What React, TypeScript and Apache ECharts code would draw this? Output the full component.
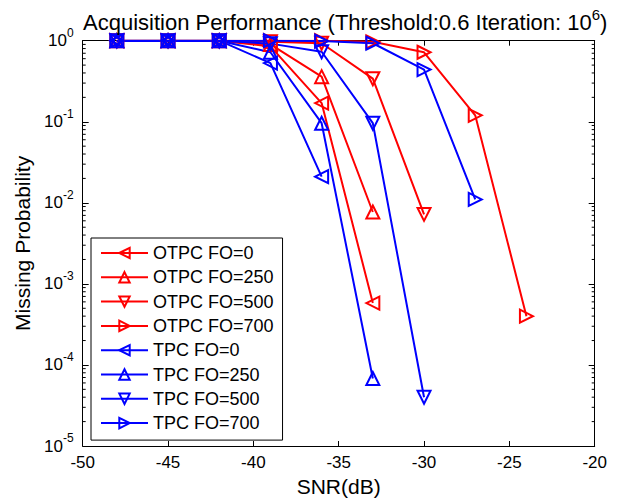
import React, { useEffect, useRef } from "react";
import * as echarts from "echarts";

const snr = [-48, -45, -42, -39, -36, -33, -30, -27, -24];
const otpcFO0 = [1, 1, 1, 0.85, 0.17, 0.00058];
const otpcFO250 = [1, 1, 1, 0.9, 0.36, 0.0077];
const otpcFO500 = [1, 1, 1, 0.97, 0.93, 0.34, 0.0072];
const otpcFO700 = [1, 1, 1, 1, 1, 0.97, 0.72, 0.12, 0.0004];
const tpcFO0 = [1, 1, 1, 0.53, 0.021];
const tpcFO250 = [1, 1, 1, 0.72, 0.096, 0.000068];
const tpcFO500 = [1, 1, 1, 0.92, 0.73, 0.096, 0.00004];
const tpcFO700 = [1, 1, 1, 1, 0.99, 0.93, 0.44, 0.011];

const seriesNames = [
  "OTPC FO=0",
  "OTPC FO=250",
  "OTPC FO=500",
  "OTPC FO=700",
  "TPC FO=0",
  "TPC FO=250",
  "TPC FO=500",
  "TPC FO=700",
];
const seriesValues = [otpcFO0, otpcFO250, otpcFO500, otpcFO700, tpcFO0, tpcFO250, tpcFO500, tpcFO700];
const xTicks = [-50, -45, -40, -35, -30, -25, -20];
const minorTickValues: number[] = [];
for (let e = -5; e < 0; e++) {
  for (let m = 2; m <= 9; m++) minorTickValues.push(m * Math.pow(10, e));
}

const RED = "#ff0000";
const BLUE = "#0000ff";
const FONT = "'Liberation Sans', Arial, Helvetica, sans-serif";

const SYM = {
  left: "path://M0,5 L10,0 L10,10 Z",
  up: "path://M5,0 L10,10 L0,10 Z",
  down: "path://M0,0 L10,0 L5,10 Z",
  right: "path://M0,0 L10,5 L0,10 Z",
};
const symbols = [SYM.left, SYM.up, SYM.down, SYM.right, SYM.left, SYM.up, SYM.down, SYM.right];
const colors = [RED, RED, RED, RED, BLUE, BLUE, BLUE, BLUE];

export default function App() {
  const ref = useRef<HTMLDivElement>(null);
  useEffect(() => {
    if (!ref.current) return;
    const chart = echarts.init(ref.current, undefined, { renderer: "svg" });
    const lineSeries = seriesNames.map((name, i) => ({
      name,
      type: "line",
      xAxisIndex: 0,
      yAxisIndex: 0,
      data: seriesValues[i].map((v, j) => [snr[j], v]),
      symbol: symbols[i],
      symbolSize: 13,
      showAllSymbol: true,
      lineStyle: { color: colors[i], width: 2 },
      itemStyle: { color: "rgba(255,255,255,0)", borderColor: colors[i], borderWidth: 2 },
      emphasis: { disabled: true },
      z: 3,
    }));
    const minorSeries = {
      type: "custom",
      name: "minor",
      xAxisIndex: 0,
      yAxisIndex: 0,
      silent: true,
      data: minorTickValues.map((v) => [-50, v]),
      renderItem: (params: any, api: any) => {
        const p = api.coord([-50, api.value(1)]);
        const cs = params.coordSys;
        const y = p[1];
        return {
          type: "group",
          children: [
            { type: "line", shape: { x1: cs.x, y1: y, x2: cs.x + 3, y2: y }, style: { stroke: "#000", lineWidth: 1 } },
            {
              type: "line",
              shape: { x1: cs.x + cs.width - 3, y1: y, x2: cs.x + cs.width, y2: y },
              style: { stroke: "#000", lineWidth: 1 },
            },
          ],
        };
      },
      z: 1,
    };
    const axisBase = {
      axisLine: { show: true, onZero: false, lineStyle: { color: "#000", width: 1 } },
      splitLine: { show: false },
    };
    chart.setOption({
      animation: false,
      backgroundColor: "#fff",
      textStyle: { fontFamily: FONT },
      title: {
        text: "{a|Acquisition Performance (Threshold:0.6 Iteration: 10}{s|6}{a|)}",
        left: 78,
        top: 2,
        textStyle: {
          fontWeight: "normal",
          rich: {
            a: { fontFamily: FONT, fontSize: 22, fontWeight: "normal", color: "#000", lineHeight: 30 },
            s: { fontFamily: FONT, fontSize: 15, fontWeight: "normal", color: "#000", verticalAlign: "top", lineHeight: 15 },
          },
        },
      },
      grid: { left: 82.7, right: 29.3, top: 40.7, bottom: 55.3, containLabel: false },
      legend: {
        data: seriesNames,
        orient: "vertical",
        left: 91,
        top: 238,
        itemWidth: 47,
        itemHeight: 13,
        itemGap: 6.3,
        padding: [6, 9, 8, 9],
        borderColor: "#000",
        borderWidth: 1,
        backgroundColor: "#fff",
        textStyle: { fontFamily: FONT, fontSize: 18, color: "#000", lineHeight: 17 },
      },
      xAxis: [
        {
          ...axisBase,
          type: "value",
          min: -50,
          max: -20,
          interval: 5,
          position: "bottom",
          axisTick: { show: true, inside: true, length: 5, lineStyle: { color: "#000" } },
          axisLabel: {
            show: true,
            margin: 8,
            fontFamily: FONT,
            fontSize: 17,
            color: "#000",
            customValues: xTicks,
          },
          name: "SNR(dB)",
          nameLocation: "middle",
          nameGap: 30,
          nameTextStyle: { fontFamily: FONT, fontSize: 21, color: "#000" },
        },
        {
          ...axisBase,
          type: "value",
          min: -50,
          max: -20,
          interval: 5,
          position: "top",
          axisTick: { show: true, inside: true, length: 5, lineStyle: { color: "#000" } },
          axisLabel: { show: false },
        },
      ],
      yAxis: [
        {
          ...axisBase,
          type: "log",
          logBase: 10,
          min: 1e-5,
          max: 1,
          position: "left",
          axisTick: { show: true, inside: true, length: 6, lineStyle: { color: "#000" } },
          axisLabel: {
            show: true,
            margin: 9,
            color: "#000",
            formatter: (v: number) => `{b|10}{s|${Math.round(Math.log10(v))}}`,
            rich: {
              b: { fontFamily: FONT, fontSize: 17, color: "#000", lineHeight: 28 },
              s: { fontFamily: FONT, fontSize: 12, color: "#000", verticalAlign: "top", lineHeight: 12 },
            },
          },
          name: "Missing Probability",
          nameLocation: "middle",
          nameGap: 44,
          nameTextStyle: { fontFamily: FONT, fontSize: 21, color: "#000" },
        },
        {
          ...axisBase,
          type: "log",
          logBase: 10,
          min: 1e-5,
          max: 1,
          position: "right",
          axisTick: { show: true, inside: true, length: 6, lineStyle: { color: "#000" } },
          axisLabel: { show: false },
        },
      ],
      series: [minorSeries, ...lineSeries],
    });
    return () => chart.dispose();
  }, []);
  return <div ref={ref} style={{ width: 624, height: 502, position: "absolute", left: 0, top: 0 }} />;
}
